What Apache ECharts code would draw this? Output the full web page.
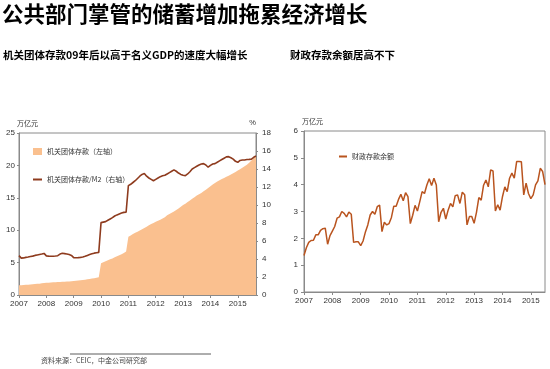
<!DOCTYPE html>
<html>
<head>
<meta charset="utf-8">
<script src="https://cdn.jsdelivr.net/npm/echarts@6/dist/echarts.min.js"></script>
<style>
html,body{margin:0;padding:0;background:#fff;}
#c{width:550px;height:369px;}
</style>
</head>
<body>
<div id="c"></div>
<script>
// ---- Data ----
var leftYears = ['2007','2008','2009','2010','2011','2012','2013','2014','2015'];
var rightYears = ['2007','2008','2009','2010','2011','2012','2013','2014','2015'];

// 机关团体存款 (万亿元), monthly from 2007-01 to 2015-09
var orgDeposits = [
 1.50,1.52,1.55,1.58,1.60,1.63,1.66,1.70,1.72,1.75,1.80,1.85,
 1.88,1.90,1.92,1.95,1.97,2.00,2.02,2.04,2.06,2.08,2.10,2.12,
 2.15,2.18,2.22,2.27,2.32,2.37,2.42,2.48,2.53,2.58,2.65,2.73,
 4.90,5.05,5.20,5.35,5.50,5.65,5.82,5.98,6.12,6.30,6.48,6.70,
 9.00,9.20,9.40,9.60,9.75,9.95,10.15,10.35,10.55,10.75,10.95,11.10,
 11.30,11.45,11.60,11.80,12.00,12.30,12.50,12.70,12.90,13.10,13.35,13.60,
 13.90,14.10,14.35,14.60,14.85,15.10,15.35,15.55,15.75,16.00,16.25,16.50,
 16.80,17.05,17.30,17.50,17.70,17.90,18.05,18.25,18.40,18.60,18.80,19.00,
 19.20,19.40,19.65,19.85,20.10,20.40,20.75,21.10,21.40
];
// 机关团体存款/M2 (%)
var orgToM2 = [
 4.37,4.10,4.12,4.18,4.22,4.28,4.32,4.40,4.45,4.50,4.55,4.62,
 4.35,4.32,4.30,4.30,4.33,4.37,4.55,4.63,4.60,4.55,4.50,4.40,
 4.15,4.14,4.15,4.18,4.22,4.30,4.40,4.50,4.58,4.65,4.70,4.74,
 8.04,8.10,8.15,8.30,8.45,8.60,8.78,8.90,9.00,9.10,9.18,9.20,
 12.15,12.30,12.50,12.70,12.95,13.20,13.40,13.50,13.20,13.00,12.85,12.70,
 12.85,13.00,13.15,13.25,13.30,13.45,13.60,13.75,13.90,13.75,13.55,13.40,
 13.30,13.26,13.45,13.70,14.00,14.15,14.30,14.45,14.55,14.60,14.45,14.20,
 14.40,14.55,14.60,14.75,14.90,15.05,15.20,15.35,15.37,15.25,15.10,14.85,
 14.74,14.95,15.00,15.00,15.05,15.07,15.10,15.30,15.44
];
// 财政存款余额 (万亿元), monthly from 2007-01
var fiscalDeposits = [
 1.36,1.65,1.85,1.92,1.93,2.13,2.13,2.30,2.36,2.38,1.78,2.10,
 2.27,2.44,2.75,2.80,3.00,2.93,2.80,2.98,2.90,1.85,1.87,1.87,
 1.73,1.90,2.24,2.50,2.87,3.00,2.90,3.18,3.24,2.25,2.60,2.50,
 2.55,2.78,3.20,3.20,3.45,3.64,3.40,3.70,3.55,2.55,2.86,3.23,
 3.02,3.37,3.74,3.67,3.99,4.22,3.97,4.24,3.99,2.62,2.97,3.12,
 2.72,3.05,3.30,3.17,3.59,3.62,3.30,3.72,3.62,2.50,2.81,2.81,
 2.56,2.97,3.52,3.42,3.98,4.17,3.92,4.55,4.51,3.02,3.25,3.05,
 3.55,3.92,3.74,4.24,4.43,4.24,4.86,4.86,4.85,3.62,4.06,3.67,
 3.48,3.62,3.99,4.14,4.61,4.49,4.00
];

function monthCats(n){
  var out=[];
  for(var i=0;i<n;i++){
    var y = 2007 + Math.floor(i/12), m = i%12+1;
    out.push(y + '-' + (m<10?'0':'') + m);
  }
  return out;
}
var leftCats = monthCats(orgDeposits.length);
var rightCats = monthCats(fiscalDeposits.length);

var sansCJK = '"Noto Sans CJK SC", "Noto Sans", sans-serif';
var tickFont = {fontSize: 8, color: '#333', fontFamily: 'Liberation Sans, Arial, sans-serif'};
function yearLabel(years){
  return function(v, idx){ return idx % 12 === 0 ? years[idx/12] : ''; };
}

var chart = echarts.init(document.getElementById('c'), null, {renderer:'canvas'});
var option = {
  backgroundColor: '#fff',
  animation: false,
  title: [
    {text:'公共部门掌管的储蓄增加拖累经济增长', left: 2, top: 3, padding: 0,
     textStyle:{fontSize:21.5, fontWeight:'bold', color:'#000', fontFamily:sansCJK}},
    {text:'机关团体存款09年后以高于名义GDP的速度大幅增长', left: 3, top: 50, padding: 0,
     textStyle:{fontSize:10.5, fontWeight:'bold', color:'#000', fontFamily:sansCJK}},
    {text:'财政存款余额居高不下', left: 290, top: 50, padding: 0,
     textStyle:{fontSize:10.5, fontWeight:'bold', color:'#000', fontFamily:sansCJK}}
  ],
  grid: [
    {left: 19, top: 133, right: 294, bottom: 74, show: true, borderColor: '#8a8a8a', borderWidth: 1, backgroundColor:'#fff'},
    {left: 304, top: 131, right: 5, bottom: 77, show: true, borderColor: '#8a8a8a', borderWidth: 1, backgroundColor:'#fff'}
  ],
  legend: [
    {left: 33, top: 148, padding: 0, itemWidth: 9, itemHeight: 7, itemGap: 4,
     data:[{name:'机关团体存款（左轴）', icon:'rect'}],
     textStyle:{fontSize:7, color:'#333', fontFamily:sansCJK}},
    {left: 33, top: 176, padding: 0, itemWidth: 9, itemHeight: 2,
     data:[{name:'机关团体存款/M2（右轴）', icon:'rect'}],
     textStyle:{fontSize:7, color:'#333', fontFamily:sansCJK}},
    {left: 339, top: 153, padding: 0, itemWidth: 8, itemHeight: 2,
     data:[{name:'财政存款余额', icon:'rect'}],
     textStyle:{fontSize:7, color:'#333', fontFamily:sansCJK}}
  ],
  xAxis: [
    {type:'category', gridIndex:0, data: leftCats, boundaryGap:false,
     axisLine:{lineStyle:{color:'#8a8a8a'}},
     axisTick:{show:true, interval:function(i){return i%12===0;}, length:3, lineStyle:{color:'#8a8a8a'}},
     axisLabel:{interval:0, formatter: yearLabel(leftYears), margin:5, ...tickFont},
     splitLine:{show:false}},
    {type:'category', gridIndex:1, data: rightCats, boundaryGap:false,
     axisLine:{lineStyle:{color:'#8a8a8a'}},
     axisTick:{show:true, interval:function(i){return i%12===0;}, length:3, lineStyle:{color:'#8a8a8a'}},
     axisLabel:{interval:0, formatter: yearLabel(rightYears), margin:5, ...tickFont},
     splitLine:{show:false}}
  ],
  yAxis: [
    {type:'value', gridIndex:0, min:0, max:25, interval:5, position:'left',
     name:'万亿元', nameLocation:'end', nameGap:6, nameTextStyle:{fontSize:7, color:'#333', fontFamily:sansCJK, align:'left', padding:[0,0,0,-2]},
     axisLine:{show:true, lineStyle:{color:'#8a8a8a'}},
     axisTick:{show:true, length:2, inside:false, lineStyle:{color:'#8a8a8a'}},
     axisLabel:{margin:4, ...tickFont}, splitLine:{show:false}},
    {type:'value', gridIndex:0, min:0, max:18, interval:2, position:'right',
     name:'%', nameLocation:'end', nameGap:6, nameTextStyle:{fontSize:7.5, color:'#333', align:'right', padding:[0,0,0,0]},
     axisLine:{show:true, lineStyle:{color:'#8a8a8a'}},
     axisTick:{show:true, length:2, lineStyle:{color:'#8a8a8a'}},
     axisLabel:{margin:6, ...tickFont}, splitLine:{show:false}},
    {type:'value', gridIndex:1, min:0, max:6, interval:1,
     name:'万亿元', nameLocation:'end', nameGap:6, nameTextStyle:{fontSize:7, color:'#333', fontFamily:sansCJK, align:'left', padding:[0,0,0,-2]},
     axisLine:{show:true, lineStyle:{color:'#8a8a8a'}},
     axisTick:{show:true, length:3, lineStyle:{color:'#8a8a8a'}},
     axisLabel:{margin:6, ...tickFont}, splitLine:{show:false}}
  ],
  series: [
    {name:'机关团体存款（左轴）', type:'line', xAxisIndex:0, yAxisIndex:0, data: orgDeposits,
     showSymbol:false, symbol:'none',
     lineStyle:{width:0, color:'#FAC08F'}, itemStyle:{color:'#FAC08F'},
     areaStyle:{color:'#FAC08F', opacity:1}, z:1},
    {name:'机关团体存款/M2（右轴）', type:'line', xAxisIndex:0, yAxisIndex:1, data: orgToM2,
     showSymbol:false, symbol:'none',
     lineStyle:{width:1.6, color:'#8E3B1E'}, itemStyle:{color:'#8E3B1E'}, z:3},
    {name:'财政存款余额', type:'line', xAxisIndex:1, yAxisIndex:2, data: fiscalDeposits,
     showSymbol:false, symbol:'none',
     lineStyle:{width:1.5, color:'#B9541F'}, itemStyle:{color:'#B9541F'}, z:3}
  ],
  graphic: [
    {type:'line', shape:{x1:70, y1:354, x2:211, y2:354}, style:{stroke:'#333', lineWidth:0.8}},
    {type:'text', left:41, top:357, style:{text:'资料来源：CEIC，中金公司研究部', fontSize:7, fill:'#444', fontFamily:sansCJK}}
  ]
};
chart.setOption(option);
</script>
</body>
</html>
